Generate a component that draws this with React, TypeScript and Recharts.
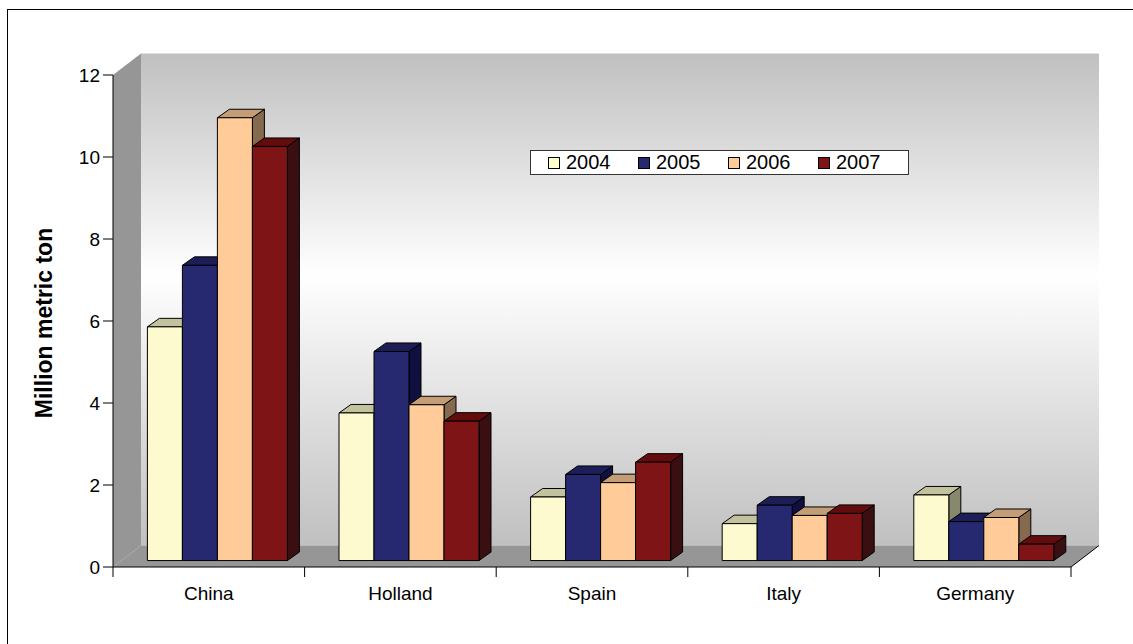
import { Bar, BarChart, Legend, ReferenceArea, XAxis, YAxis } from 'recharts';

const categories = ['China', 'Holland', 'Spain', 'Italy', 'Germany'];
const values2004 = [5.7, 3.6, 1.55, 0.9, 1.6];
const values2005 = [7.2, 5.1, 2.1, 1.35, 0.95];
const values2006 = [10.8, 3.8, 1.9, 1.1, 1.05];
const values2007 = [10.1, 3.4, 2.4, 1.15, 0.4];
const yTicks = [0, 2, 4, 6, 8, 10, 12];

const data = categories.map((name, i) => ({
  name,
  y2004: values2004[i],
  y2005: values2005[i],
  y2006: values2006[i],
  y2007: values2007[i],
}));

const FONT = '"Liberation Sans", Arial, sans-serif';
const CHART_W = 1133;
const CHART_H = 644;
const MARGIN = { top: 75, right: 62, left: 0, bottom: 0 };
const Y_AXIS_W = 113;
const X_AXIS_H = 77;
const PLOT_W = CHART_W - MARGIN.left - MARGIN.right - Y_AXIS_W;

// oblique offset of the back wall / floor depth
const DEPTH_X = 28;
const DEPTH_Y = -21.5;
// bars stand a bit into the floor
const BAR_SHIFT = 0.3;
// thickness of each bar
const BAR_DX = 12;
const BAR_DY = -8.5;

function Walls(props: any) {
  const { x, y, width, height } = props;
  const x1 = x + width;
  const y1 = y + height;
  return (
    <g>
      <defs>
        <linearGradient id="backWall" x1="0" y1="0" x2="0" y2="1">
          <stop offset="0%" stopColor="#c0c0c0" />
          <stop offset="45%" stopColor="#ffffff" />
          <stop offset="100%" stopColor="#c0c0c0" />
        </linearGradient>
      </defs>
      <rect x={x + DEPTH_X} y={y + DEPTH_Y} width={width} height={height} fill="url(#backWall)" />
      <polygon
        points={`${x},${y} ${x + DEPTH_X},${y + DEPTH_Y} ${x + DEPTH_X},${y1 + DEPTH_Y} ${x},${y1}`}
        fill="#969696"
      />
      <polygon
        points={`${x},${y1} ${x + DEPTH_X},${y1 + DEPTH_Y} ${x1 + DEPTH_X},${y1 + DEPTH_Y} ${x1},${y1}`}
        fill="#969696"
      />
      <line x1={x1} y1={y1} x2={x1 + DEPTH_X} y2={y1 + DEPTH_Y} stroke="#000" />
    </g>
  );
}

function makeBar3D(front: string, top: string, side: string) {
  return (props: any) => {
    const { x, y, width, height } = props;
    if (height == null || width == null) return <g />;
    const fx = x + DEPTH_X * BAR_SHIFT;
    const fy = y + DEPTH_Y * BAR_SHIFT;
    const rx = fx + width;
    const by = fy + height;
    return (
      <g stroke="#000" strokeWidth={1} strokeLinejoin="round">
        <polygon
          points={`${rx},${fy} ${rx + BAR_DX},${fy + BAR_DY} ${rx + BAR_DX},${by + BAR_DY} ${rx},${by}`}
          fill={side}
        />
        <polygon
          points={`${fx},${fy} ${fx + BAR_DX},${fy + BAR_DY} ${rx + BAR_DX},${fy + BAR_DY} ${rx},${fy}`}
          fill={top}
        />
        <rect x={fx} y={fy} width={width} height={height} fill={front} />
      </g>
    );
  };
}

function CategoryTick(props: any) {
  const { x, y, payload, index } = props;
  const half = PLOT_W / categories.length / 2;
  return (
    <g>
      <line x1={x - half} y1={y - 10} x2={x - half} y2={y} stroke="#000" />
      {index === categories.length - 1 && <line x1={x + half} y1={y - 10} x2={x + half} y2={y} stroke="#000" />}
      <text x={x} y={y + 23} textAnchor="middle" fontSize={19} fill="#000" fontFamily={FONT}>
        {payload.value}
      </text>
    </g>
  );
}

function LegendBox(props: any) {
  const payload = props.payload ?? [];
  return (
    <div
      style={{
        width: 379,
        height: 25,
        boxSizing: 'border-box',
        border: '1px solid #333',
        background: '#fff',
        display: 'flex',
        alignItems: 'center',
        paddingLeft: 17,
        fontSize: 20,
        fontFamily: FONT,
        color: '#000',
      }}
    >
      {payload.map((entry: any) => (
        <div key={entry.value} style={{ width: 95, display: 'flex', alignItems: 'center' }}>
          <span
            style={{
              display: 'inline-block',
              width: 12,
              height: 12,
              boxSizing: 'border-box',
              border: '1px solid #000',
              background: entry.color,
              marginRight: 6,
            }}
          />
          <span>{entry.value}</span>
        </div>
      ))}
    </div>
  );
}

export default function App() {
  return (
    <div style={{ position: 'absolute', left: 0, top: 0, width: CHART_W, height: CHART_H, overflow: 'hidden', background: '#fff' }}>
      <BarChart
        width={CHART_W}
        height={CHART_H}
        data={data}
        margin={MARGIN}
        barCategoryGap={26}
        barGap={0}
        style={{ fontFamily: FONT }}
      >
        <ReferenceArea y1={0} y2={12} ifOverflow="visible" shape={(p: any) => <Walls {...p} />} />
        <XAxis
          dataKey="name"
          height={X_AXIS_H}
          interval={0}
          tickSize={10}
          tickMargin={0}
          tickLine={false}
          axisLine={{ stroke: '#000' }}
          tick={(p: any) => <CategoryTick {...p} />}
        />
        <YAxis
          domain={[0, 12]}
          ticks={yTicks}
          interval={0}
          width={Y_AXIS_W}
          tickSize={10}
          tickMargin={3}
          axisLine={{ stroke: '#000' }}
          tickLine={{ stroke: '#000' }}
          tick={{ fontSize: 19, fill: '#000' }}
          label={{
            content: (lp: any) => {
              const vb = lp.viewBox ?? { x: 0, y: MARGIN.top, width: Y_AXIS_W, height: 492 };
              const cx = vb.x + 44;
              const cy = vb.y + vb.height / 2 + 2;
              return (
                <text
                  x={cx}
                  y={cy}
                  transform={`rotate(-90 ${cx} ${cy})`}
                  textAnchor="middle"
                  dominantBaseline="central"
                  fontSize={23}
                  fontWeight="bold"
                  fill="#000"
                  fontFamily={FONT}
                >
                  Million metric ton
                </text>
              );
            },
          }}
        />
        <Legend
          layout="horizontal"
          verticalAlign="middle"
          align="center"
          content={(p: any) => <LegendBox {...p} />}
          wrapperStyle={{ position: 'absolute', left: 530, top: 150, width: 379, height: 25 }}
        />
        <Bar dataKey="y2004" name="2004" fill="#FFFFCC" isAnimationActive={false} shape={makeBar3D('#FDFACF', '#C2C29C', '#87886C')} />
        <Bar dataKey="y2005" name="2005" fill="#262870" isAnimationActive={false} shape={makeBar3D('#262870', '#1D1E58', '#0F1040')} />
        <Bar dataKey="y2006" name="2006" fill="#FFCC99" isAnimationActive={false} shape={makeBar3D('#FFCC99', '#C49C76', '#856A50')} />
        <Bar dataKey="y2007" name="2007" fill="#7F1416" isAnimationActive={false} shape={makeBar3D('#7F1416', '#630C0E', '#3A0F11')} />
      </BarChart>
      <div
        style={{
          position: 'absolute',
          left: 7,
          top: 9,
          width: 1140,
          height: 700,
          border: '1px solid #000',
          pointerEvents: 'none',
        }}
      />
    </div>
  );
}
